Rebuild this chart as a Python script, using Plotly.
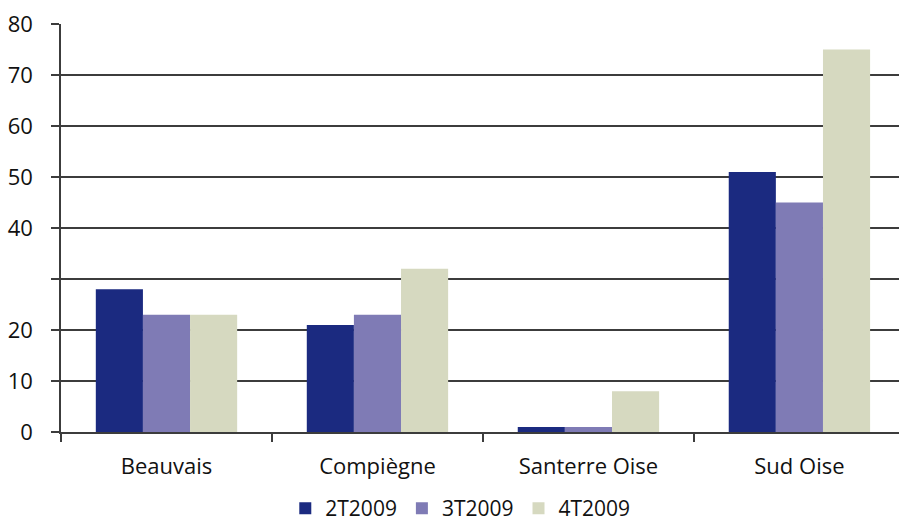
import plotly.graph_objects as go

categories = ["Beauvais", "Compiègne", "Santerre Oise", "Sud Oise"]
s2T2009 = [28, 21, 1, 51]
s3T2009 = [23, 23, 1, 45]
s4T2009 = [23, 32, 8, 75]
series_names = ["2T2009", "3T2009", "4T2009"]
colors = ["#1B2A80", "#7F7BB5", "#D6D9C0"]
ytick_vals = [0, 10, 20, 30, 40, 50, 60, 70, 80]
ytick_text = ["0", "10", "20", "", "40", "50", "60", "70", "80"]

fig = go.Figure()
for name, vals, col in zip(series_names, [s2T2009, s3T2009, s4T2009], colors):
    fig.add_trace(go.Bar(x=categories, y=vals, name=name, marker=dict(color=col, line=dict(width=0))))

font = dict(family="Open Sans, Lato, sans-serif", size=22, color="#111111")
fig.update_layout(
    width=899, height=529,
    margin=dict(l=61, r=0, t=24, b=97, autoexpand=False),
    paper_bgcolor="white", plot_bgcolor="white",
    barmode="group", bargap=0.33, bargroupgap=0,
    font=font,
    legend=dict(orientation="h", x=0.512, xanchor="center", xref="container",
                y=-0.012, yanchor="bottom", yref="container",
                font=dict(size=21), traceorder="normal", itemwidth=30,
                tracegroupgap=0),
    showlegend=True,
)
fig.update_xaxes(
    range=[-0.5, 3.472], showline=True, linecolor="#3c3c3c", linewidth=1.5,
    ticks="outside", tickson="boundaries", ticklen=8, tickcolor="#3c3c3c", tickwidth=1.5,
    showgrid=False, ticklabelstandoff=14, automargin=False,
)
fig.update_yaxes(
    range=[0, 80], tickvals=ytick_vals, ticktext=ytick_text,
    showline=True, linecolor="#3c3c3c", linewidth=1.5,
    ticks="outside", ticklen=8, tickcolor="#3c3c3c", tickwidth=1.5,
    showgrid=True, gridcolor="#3c3c3c", gridwidth=1.5, zeroline=False,
    ticklabelstandoff=14, automargin=False,
)
fig.write_html("out.html", config={"displayModeBar": False},
               post_script="document.body.style.margin='0';")
